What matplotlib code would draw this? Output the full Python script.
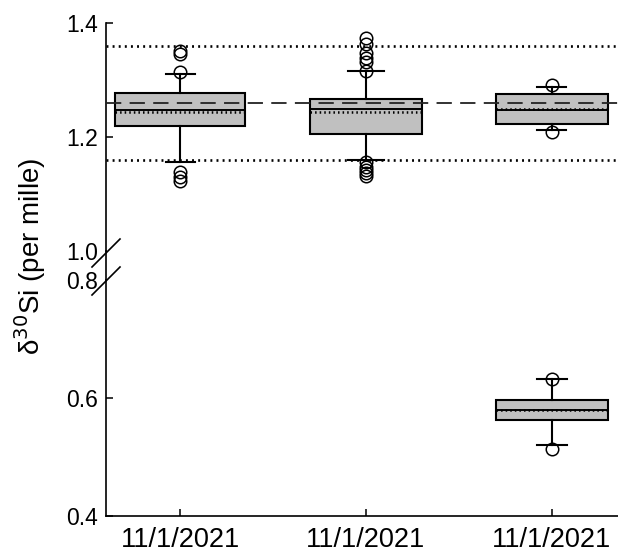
import matplotlib as mpl
import matplotlib.pyplot as plt
from matplotlib.lines import Line2D

mpl.rcParams['font.family'] = ['Liberation Sans', 'DejaVu Sans']
mpl.rcParams['lines.scale_dashes'] = False

# box statistics (per mille)
positions = [1, 2, 3]
labels = ['11/1/2021', '11/1/2021', '11/1/2021']
q1 = [1.220, 1.206, 1.222]
med = [1.247, 1.250, 1.247]
q3 = [1.278, 1.267, 1.275]
mean = [1.243, 1.243, 1.249]
whislo = [1.156, 1.160, 1.212]
whishi = [1.310, 1.316, 1.287]
fliers = [[1.351, 1.345, 1.3135, 1.139, 1.130, 1.122],
          [1.373, 1.364, 1.347, 1.338, 1.332, 1.316,
           1.157, 1.148, 1.142, 1.136, 1.132],
          [1.291, 1.209]]
widths = [0.70, 0.60, 0.60]
capw = [0.156, 0.19, 0.156]

# low box of the third group
low_q1, low_med, low_q3, low_mean = 0.562, 0.579, 0.597, 0.580
low_whislo, low_whishi = 0.520, 0.632
low_fliers = [0.633, 0.513]

ref_line = 1.26
ref_band = [1.36, 1.16]

fig = plt.figure(figsize=(6.18, 5.54), dpi=100)
left, right = 106/618, 1.0
ax_hi = fig.add_axes([left, 1-251/554, right-left, 228/554])
ax_lo = fig.add_axes([left, 1-516/554, right-left, 236/554])

boxprops = dict(facecolor='#c0c0c0', edgecolor='black', linewidth=1.5)
lineprops = dict(color='black', linewidth=1.5)
medprops = dict(color='black', linewidth=1.4)
meanprops = dict(color='black', linewidth=1.8, linestyle=(0, (1.1, 2.2)))
flierprops = dict(marker='o', markerfacecolor='none', markeredgecolor='black',
                  markersize=9, markeredgewidth=1.1)

stats = []
for i in range(3):
    stats.append(dict(q1=q1[i], med=med[i], q3=q3[i], mean=mean[i],
                      whislo=whislo[i], whishi=whishi[i], fliers=fliers[i]))

for v in ref_band:
    ax_hi.axhline(v, color='black', lw=1.9, dashes=(1.4, 3.0), zorder=1)

ax_hi.bxp(stats, positions=positions, widths=widths, capwidths=capw,
          patch_artist=True, showmeans=True, meanline=True,
          boxprops=boxprops, whiskerprops=lineprops, capprops=lineprops,
          medianprops=medprops, meanprops=meanprops, flierprops=flierprops,
          manage_ticks=False)
# dashed reference line over the boxes
ax_hi.axhline(ref_line, color='#222222', lw=1.3, dashes=(11, 6), zorder=5)

low_stats = [dict(q1=low_q1, med=low_med, q3=low_q3, mean=low_mean,
                  whislo=low_whislo, whishi=low_whishi, fliers=low_fliers)]
ax_lo.bxp(low_stats, positions=[3], widths=[0.60], capwidths=[0.16],
          patch_artist=True, showmeans=True, meanline=True,
          boxprops=boxprops, whiskerprops=lineprops, capprops=lineprops,
          medianprops=medprops, meanprops=meanprops, flierprops=flierprops,
          manage_ticks=False)

for ax in (ax_hi, ax_lo):
    ax.set_xlim(0.602, 3.355)
    for s in ('top', 'right'):
        ax.spines[s].set_visible(False)
    ax.spines['left'].set_linewidth(1.2)
    ax.spines['bottom'].set_linewidth(1.2)
    ax.tick_params(direction='in', length=5, width=1.1, labelsize=16.5, pad=6)

ax_hi.set_ylim(1.0, 1.4)
ax_hi.set_yticks([1.0, 1.2, 1.4])
ax_hi.set_yticklabels(['1.0', '1.2', '1.4'])
ax_hi.yaxis.get_major_ticks()[0].tick1line.set_visible(False)
ax_hi.spines['bottom'].set_visible(False)
ax_hi.set_xticks([])

ax_lo.set_ylim(0.4, 0.8)
ax_lo.set_yticks([0.4, 0.6, 0.8])
ax_lo.set_yticklabels(['0.4', '0.6', '0.8'])
ax_lo.yaxis.get_major_ticks()[2].tick1line.set_visible(False)
ax_lo.set_xticks(positions)
ax_lo.set_xticklabels(labels)
ax_lo.tick_params(axis='x', labelsize=19.5, pad=8)

# join the two spines and mark the break
x0 = left
fig.add_artist(Line2D([x0, x0], [1-251/554, 1-280/554], color='black', lw=1.2))
for yc in (253, 281):
    yf = 1 - yc/554
    fig.add_artist(Line2D([x0 - 14/618, x0 + 14/618], [yf - 14/554, yf + 14/554],
                          color='black', lw=1.2))

fig.text(30/618, 1-256/554, 'δ$^{30}$Si (per mille)', rotation=90,
         ha='center', va='center', fontsize=20)

fig.savefig('out.png', dpi=100)
